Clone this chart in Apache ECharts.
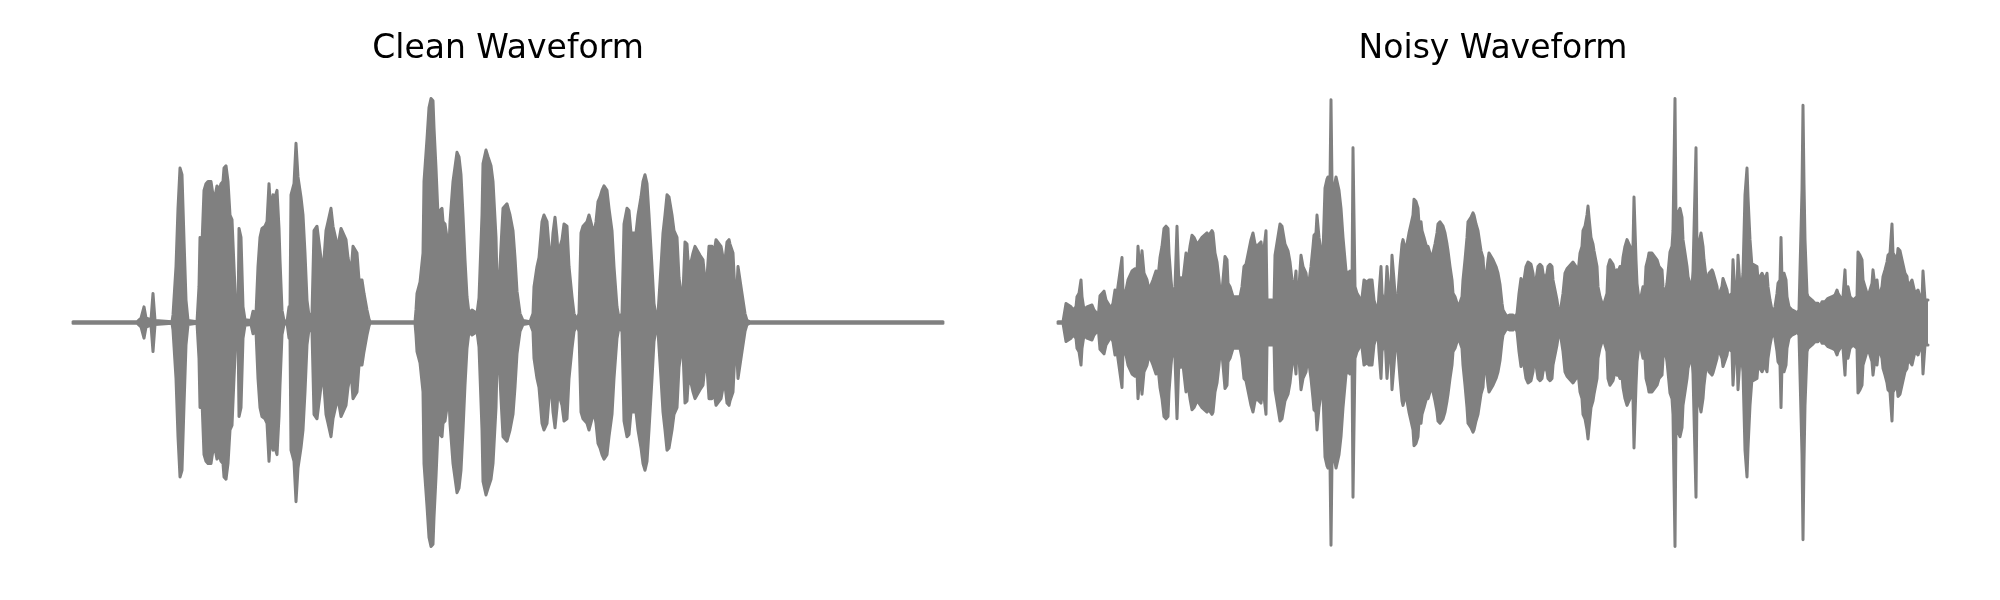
<!DOCTYPE html>
<html>
<head>
<meta charset="utf-8">
<script src="https://cdn.jsdelivr.net/npm/echarts@6/dist/echarts.min.js"></script>
<style>html,body{margin:0;padding:0;background:#fff}#c{width:2000px;height:600px}</style>
</head>
<body>
<div id="c"></div>
<script>
// Titles
const titles = ["Clean Waveform", "Noisy Waveform"];

// Envelope of the clean waveform: [time, peak amplitude] (symmetric about 0)
const cleanEnvelope = [
[0,.003],[22,.003],[24,.01],[26,.003],[64,.003],[68,.02],[71,.07],[73,.02],[75,.024],[78,.012],[80,.13],[82,.009],[99,.003],[100,.034],[103,.25],[105,.51],[107,.69],[109,.66],[111,.37],[113,.10],[115,.009],[124,.003],[126,.16],[127,.38],[129,.35],[131,.59],[133,.62],[135,.63],[138,.63],[140,.57],[141,.54],[144,.61],[146,.59],[148,.62],[150,.63],[151,.69],[153,.70],[155,.63],[157,.48],[159,.46],[161,.25],[163,.055],[165,.02],[166,.42],[168,.38],[170,.07],[172,.012],[178,.009],[180,.05],[183,.04],[185,.25],[187,.38],[189,.42],[192,.43],[194,.45],[196,.62],[198,.48],[200,.57],[202,.56],[204,.59],[206,.42],[207,.28],[209,.055],[211,.009],[214,.003],[216,.07],
[217,.06],[218,.57],[221,.62],[223,.80],[225,.65],[228,.56],[230,.48],[232,.31],[234,.10],[236,.03],[239,.04],[241,.41],[244,.43],[246,.43],[249,.25],[250,.22],[253,.41],[255,.45],[258,.51],[260,.43],[263,.37],[265,.34],[268,.42],[270,.40],[273,.37],[275,.29],[278,.22],[280,.34],[282,.34],[284,.31],[286,.19],[289,.19],[291,.13],[294,.056],[296,.015],[297,.003],[342,.003],[343,.056],[344,.13],[347,.18],[350,.31],[351,.63],[354,.82],[356,.96],[358,1.0],[360,.99],[361,.87],[363,.69],[365,.48],[367,.50],[369,.51],[370,.45],[372,.44],[374,.38],[375,.22],[377,.45],[380,.63],[384,.76],[386,.74],[388,.66],[390,.48],[392,.28],[394,.115],[396,.04],[399,.056],[404,.04],[406,.11],[409,.48],[410,.71],[413,.77],[415,.74],[418,.70],[420,.63],[423,.38],[424,.19],[426,.16],[428,.34],[430,.51],[434,.53],
[437,.48],[440,.41],[442,.29],[444,.14],[447,.04],[450,.009],[457,.003],[460,.04],[461,.16],[464,.25],[466,.29],[469,.45],[471,.48],[474,.45],[476,.34],[478,.27],[480,.40],[482,.47],[484,.38],[485,.31],[487,.31],[489,.37],[491,.44],[494,.43],[496,.25],[499,.115],[501,.04],[504,.012],[506,.04],[508,.40],[510,.43],[514,.45],[516,.48],[519,.43],[521,.40],[523,.45],[525,.54],[527,.56],[529,.59],[531,.61],[534,.59],[536,.51],[539,.41],[541,.25],[544,.07],[546,.02],[549,.04],[551,.44],[554,.51],[556,.50],[558,.40],[560,.40],[563,.40],[565,.48],[568,.56],[570,.63],[572,.66],[574,.62],[576,.48],[579,.25],[581,.085],[583,.03],[585,.04],[588,.25],[590,.40],[592,.48],[594,.57],[596,.56],[599,.48],[601,.41],[604,.38],[606,.20],[609,.10],[610,.13],[612,.36],[614,.35],[615,.28],[617,.25],[620,.31],[622,.34],[624,.34],[627,.30],[630,.28],[632,.19],[634,.20],[636,.34],[639,.34],[641,.31],[643,.37],[645,.37],[648,.34],[650,.29],[652,.28],[654,.36],[656,.37],
[657,.35],[660,.31],[662,.13],[664,.16],[665,.25],[667,.25],[669,.13],[672,.04],[674,.009],[677,.003],[737,.003],[739,.01],[741,.003],[870,.003]
];

// Envelope of the noisy waveform: [time, peak amplitude]
const noisyEnvelope = [
[0,.003],[5,.003],[8,.085],[10,.093],[13,.07],[15,.056],[18,.07],[19,.115],[21,.13],[23,.19],[24,.115],[26,.056],[29,.07],[31,.078],[34,.078],[36,.056],[39,.04],[40,.012],[42,.12],[44,.13],[46,.14],[48,.10],[50,.10],[53,.064],[55,.086],[57,.145],[59,.13],[61,.13],[64,.29],[65,.13],[68,.145],[70,.19],[72,.197],[74,.23],[77,.24],[79,.22],[80,.34],[82,.22],[84,.32],[86,.22],[89,.19],[91,.145],[93,.15],[95,.19],[98,.23],[100,.20],[102,.29],[104,.34],[106,.42],[108,.43],[110,.42],[111,.31],[113,.19],[115,.10],[117,.16],[119,.43],[121,.16],[123,.20],[125,.19],[128,.31],[130,.28],[132,.34],[134,.39],[136,.38],[139,.35],[141,.36],[144,.38],[146,.38],[149,.40],[151,.39],[154,.41],[155,.40],[157,.31],[159,.27],[161,.19],[163,.093],[165,.19],[167,.295],[169,.28],[170,.175],[172,.16],[174,.163],[175,.115],[178,.115],[180,.12],[182,.115],[184,.16],[186,.25],[188,.26],[190,.26],[193,.37],[195,.40],[197,.35],[199,.34],[201,.35],[203,.36],[205,.29],[208,.41],[209,.10],[211,.108],[214,.10],[216,.086],
[217,.30],[222,.44],[224,.43],[227,.35],[230,.32],[232,.27],[234,.19],[236,.145],[238,.23],[239,.10],[241,.16],[243,.30],[245,.25],[248,.22],[250,.15],[253,.25],[255,.34],[256,.39],[258,.40],[259,.48],[261,.38],[263,.32],[265,.31],[267,.60],[269,.64],[270,.65],[272,.63],[273,.995],[274,.62],[276,.60],[278,.65],[279,.65],[281,.59],[283,.51],[285,.38],[288,.23],[290,.22],[292,.23],[294,.16],[295,.78],[297,.16],[299,.13],[301,.115],[303,.07],[305,.064],[306,.19],[309,.18],[311,.19],[314,.19],[316,.10],[318,.07],[320,.056],[321,.13],[323,.25],[324,.13],[327,.07],[329,.25],[331,.13],[333,.16],[334,.30],[336,.19],[338,.07],[340,.13],[342,.25],[344,.35],[345,.37],[347,.33],[349,.35],[351,.40],[353,.44],[355,.48],[356,.55],[358,.54],[360,.51],[361,.44],[363,.45],[364,.41],[366,.38],[369,.33],[370,.34],[372,.31],[374,.19],[375,.31],[377,.35],[379,.40],[380,.44],[382,.45],[384,.45],[385,.43],[387,.40],[389,.35],[390,.32],[392,.25],[394,.19],[395,.13],[397,.115],[399,.086],[400,.064],[402,.07],[404,.115],[405,.19],[407,.28],[409,.38],[410,.45],[413,.47],[415,.49],[416,.48],[418,.44],[420,.41],[421,.38],[423,.32],[425,.29],[426,.22],[428,.20],[430,.28],[431,.31],[433,.31],[435,.28],[438,.25],[440,.22],
[442,.17],[444,.086],[445,.056],[447,.04],[449,.027],[452,.034],[455,.034],[457,.024],[459,.04],[461,.13],[463,.197],[464,.16],[466,.19],[468,.25],[470,.27],[473,.26],[475,.22],[476,.175],[478,.19],[480,.25],[482,.26],[484,.25],[485,.22],[487,.19],[489,.22],[490,.25],[492,.26],[494,.25],[495,.19],[497,.145],[499,.10],[500,.07],[502,.04],[504,.034],[505,.13],[507,.22],[509,.24],[511,.25],[513,.26],[515,.27],[518,.25],[520,.22],[522,.31],[524,.34],[525,.41],[527,.43],[529,.48],[530,.52],[531,.47],[533,.38],[535,.35],[536,.32],[539,.25],[540,.16],[542,.115],[544,.086],[545,.07],[547,.10],[549,.13],[550,.25],[552,.28],[554,.28],[555,.26],[557,.22],[559,.235],[560,.225],[562,.25],[564,.24],[565,.29],[567,.34],[569,.37],[570,.37],[572,.34],[574,.32],[575,.34],[576,.56],[578,.28],[579,.175],[581,.10],[583,.115],[585,.16],[586,.07],[588,.25],[590,.285],[591,.31],[594,.31],[596,.31],[599,.28],[601,.25],[604,.235],[605,.16],[607,.115],[609,.175],[610,.22],[612,.315],[614,.34],[615,.41],[617,1.0],[618,.45],[620,.49],[622,.51],[624,.47],[625,.37],[627,.31],[629,.25],[630,.205],[632,.175],[634,.16],[635,.23],[638,.78],[639,.31],[641,.31],[643,.40],[645,.34],[646,.28],[648,.205],[649,.175],[651,.22],[654,.235],[655,.225],[657,.22],[659,.16],[660,.115],
[662,.115],[664,.16],[665,.197],[667,.19],[669,.145],[670,.115],[672,.108],[674,.13],[675,.28],[677,.13],[679,.145],[680,.30],[682,.16],[684,.175],[685,.22],[687,.57],[689,.69],[690,.56],[692,.37],[694,.25],[695,.26],[697,.26],[699,.25],[700,.19],[702,.205],[704,.22],[705,.22],[707,.19],[709,.22],[710,.16],[712,.10],[714,.056],[715,.04],[717,.07],[719,.13],[720,.175],[722,.19],[723,.38],[724,.19],[726,.22],[728,.19],[729,.115],[731,.07],[734,.056],[735,.056],[737,.05],[739,.04],[740,.04],[741,.056],[743,.41],[744,.59],[745,.97],[746,.62],[747,.37],[749,.13],[750,.115],[752,.115],[754,.10],[755,.10],[757,.086],[759,.086],[760,.086],[762,.07],[764,.093],[765,.093],[767,.093],[769,.093],[770,.108],[772,.10],[774,.115],[775,.115],[777,.123],[779,.145],[780,.13],[782,.123],[784,.10],[785,.115],[787,.235],[788,.13],[790,.16],[792,.115],[794,.108],[795,.10],[797,.10],[799,.115],[800,.315],[802,.30],[804,.28],[805,.19],[807,.16],[809,.13],[810,.115],[812,.145],[814,.175],[815,.235],[817,.16],[819,.19],[820,.145],[822,.13],[824,.16],[825,.205],[827,.235],[829,.27],[830,.30],[832,.31],[834,.44],[835,.31],[837,.31],[839,.28],[840,.33],[842,.32],[844,.28],[845,.26],[847,.22],[849,.205],[850,.16],[852,.175],[854,.19],[855,.182],[857,.13],[859,.123],[860,.145],[862,.115],[864,.10],[865,.23],[867,.10],[869,.093],[870,.10]
];

const waveColor = '#808080';
const chart = echarts.init(document.getElementById('c'), null, {renderer: 'canvas'});

function halves(env, idx) {
  const up = env.map(p => [p[0], p[1]]);
  const dn = env.map(p => [p[0], -p[1]]);
  const base = {
    type: 'line', xAxisIndex: idx, yAxisIndex: idx, showSymbol: false, symbol: 'none',
    lineStyle: {color: waveColor, width: 3, join: 'round', cap: 'round'},
    silent: true
  };
  return [
    Object.assign({}, base, {data: up, areaStyle: {color: waveColor, opacity: 1, origin: -0.003}}),
    Object.assign({}, base, {data: dn, areaStyle: {color: waveColor, opacity: 1, origin: 0.003}})
  ];
}

chart.setOption({
  animation: false,
  backgroundColor: '#ffffff',
  title: [
    {text: titles[0], left: 503, top: 28, textAlign: 'center',
     textStyle: {fontFamily: 'DejaVu Sans', fontSize: 33, fontWeight: 'normal', color: '#000'}},
    {text: titles[1], left: 1488, top: 28, textAlign: 'center',
     textStyle: {fontFamily: 'DejaVu Sans', fontSize: 33, fontWeight: 'normal', color: '#000'}}
  ],
  grid: [
    {left: 73, width: 870, top: 97, height: 451},
    {left: 1058, width: 870, top: 97, height: 451}
  ],
  xAxis: [
    {type: 'value', gridIndex: 0, min: 0, max: 870, show: false},
    {type: 'value', gridIndex: 1, min: 0, max: 870, show: false}
  ],
  yAxis: [
    {type: 'value', gridIndex: 0, min: -1.007, max: 1.007, show: false},
    {type: 'value', gridIndex: 1, min: -1.007, max: 1.007, show: false}
  ],
  series: [].concat(halves(cleanEnvelope, 0), halves(noisyEnvelope, 1))
});
</script>
</body>
</html>
